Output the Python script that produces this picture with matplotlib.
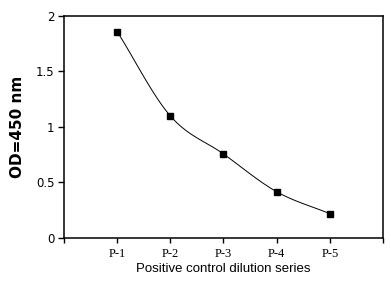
import numpy as np
import matplotlib.pyplot as plt

# Datos
labels = ["P-1", "P-2", "P-3", "P-4", "P-5"]
od = [1.86, 1.10, 0.757, 0.417, 0.219]

x = np.arange(1, len(labels) + 1)
y = np.array(od)

# curva suavizada (Catmull-Rom) para dibujar la línea entre puntos
def suavizar(px, py, n=30):
    px = np.concatenate([[2 * px[0] - px[1]], px, [2 * px[-1] - px[-2]]])
    py = np.concatenate([[2 * py[0] - py[1]], py, [2 * py[-1] - py[-2]]])
    xs, ys = [], []
    t = np.linspace(0, 1, n)
    for i in range(1, len(px) - 2):
        for p, out in ((px, xs), (py, ys)):
            p0, p1, p2, p3 = p[i - 1], p[i], p[i + 1], p[i + 2]
            out.extend(0.5 * (2 * p1 + (-p0 + p2) * t
                              + (2 * p0 - 5 * p1 + 4 * p2 - p3) * t ** 2
                              + (-p0 + 3 * p1 - 3 * p2 + p3) * t ** 3))
    return np.array(xs), np.array(ys)

fig = plt.figure(figsize=(3.91, 2.85), dpi=100)
ax = fig.add_axes([0.1637, 0.1649, 0.8158, 0.779])

xs, ys = suavizar(x.astype(float), y)
ax.plot(xs, ys, color="black", lw=0.7)
ax.plot(x, y, ls="none", marker="s", ms=4.5, color="black")

ax.set_xlim(0, 6)
ax.set_ylim(0, 2)
ax.set_xticks(range(0, 7))
ax.set_xticklabels([""] + labels + [""], fontfamily="Liberation Serif", fontsize=9)
ax.set_yticks([0, 0.5, 1, 1.5, 2])
ax.set_yticklabels(["0", "0.5", "1", "1.5", "2"], fontfamily="DejaVu Sans", fontsize=8.5)
ax.tick_params(direction="out", length=4, width=1, pad=3)
ax.tick_params(axis="x", length=3.5, pad=3.5)

for s in ax.spines.values():
    s.set_linewidth(1.1)

ax.set_xlabel("Positive control dilution series", fontfamily="Liberation Sans",
              fontsize=9.5, labelpad=2)
ax.set_ylabel("OD=450 nm", fontfamily="DejaVu Sans", fontweight="bold",
              fontsize=11, labelpad=8)

fig.savefig("out.png", dpi=100)
